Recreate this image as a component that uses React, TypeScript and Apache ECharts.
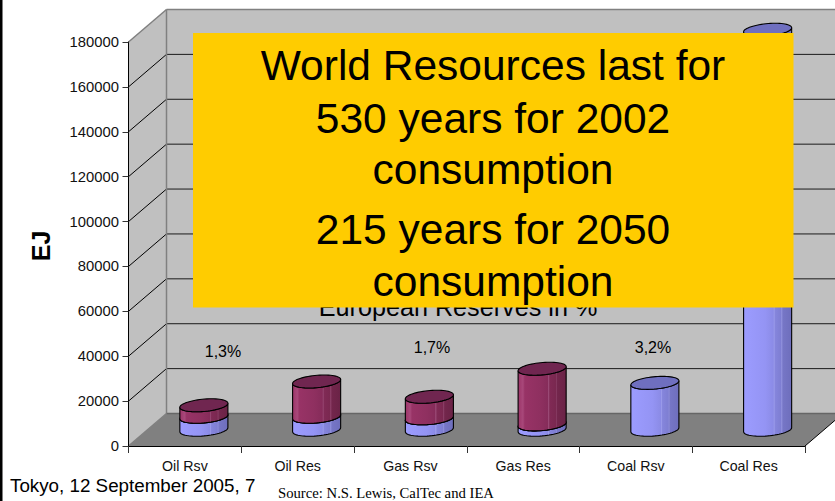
import React, { useEffect, useRef } from "react";
import * as echarts from "echarts";

const categories = ["Oil Rsv", "Oil Res", "Gas Rsv", "Gas Res", "Coal Rsv", "Coal Res"];
const blueValues = [5800, 5800, 5100, 2400, 20900, 178200];
const redTops = [10900, 21500, 14700, 27200, 0, 0];
const yMax = 180000;
const yStep = 20000;
const headlineLines = [
  "World Resources last for",
  "530 years for 2002",
  "consumption",
  "215 years for 2050",
  "consumption",
];
const headlineY = [65, 118, 169, 229, 281];
const shares = [
  { text: "1,3%", x: 223, y: 351 },
  { text: "1,7%", x: 432, y: 347 },
  { text: "3,2%", x: 653, y: 347 },
];

const DX = 38;
const DY = -32.5;
const FONT = '"Liberation Sans", Arial, sans-serif';

const RX = 22.8;
const AX = 7.6;
const BY = 6.5;

function ringPoint(cx: number, cy: number, t: number) {
  return [cx + RX * Math.cos(t) + AX * Math.sin(t), cy - BY * Math.sin(t)];
}

function wallsRenderItem(params: any, api: any) {
  const c = params.coordSys;
  const L = c.x;
  const R = c.x + c.width;
  const T = c.y;
  const B = c.y + c.height;
  const children: any[] = [];
  const gridVals: number[] = [];
  for (let v = 0; v <= yMax; v += yStep) gridVals.push(v);
  children.push({
    type: "polygon",
    shape: { points: [[L + DX, T + DY], [R + DX, T + DY], [R + DX, B + DY], [L + DX, B + DY]] },
    style: { fill: "#C0C0C0" },
  });
  children.push({
    type: "polygon",
    shape: { points: [[L, T], [L + DX, T + DY], [L + DX, B + DY], [L, B]] },
    style: { fill: "#C0C0C0" },
  });
  gridVals.forEach((v) => {
    const y = api.coord([0, v])[1];
    if (v > 0 && v < yMax) {
      children.push({
        type: "line",
        shape: { x1: L + DX, y1: y + DY, x2: R + DX, y2: y + DY },
        style: { stroke: "#1a1a1a", lineWidth: 1 },
      });
      children.push({
        type: "line",
        shape: { x1: L, y1: y, x2: L + DX, y2: y + DY },
        style: { stroke: "#000", lineWidth: 1 },
      });
    }
  });
  children.push({
    type: "polygon",
    shape: { points: [[L, B], [R, B], [R + DX, B + DY], [L + DX, B + DY]] },
    style: { fill: "#808080" },
  });
  const edge = (x1: number, y1: number, x2: number, y2: number, stroke: string, lineWidth: number) =>
    children.push({ type: "line", shape: { x1, y1, x2, y2 }, style: { stroke, lineWidth } });
  edge(L + DX, T + DY, R + DX, T + DY, "#808080", 1.5);
  edge(L, T, L + DX, T + DY, "#808080", 1.5);
  edge(L + DX, T + DY, L + DX, B + DY, "#808080", 1.5);
  edge(L, B, L + DX, B + DY, "#808080", 1.5);
  edge(L + DX, B + DY, R + DX, B + DY, "#666666", 1.5);
  edge(R, B, R + DX, B + DY, "#000", 1);
  return { type: "group", children };
}

function cylinderGradient(stops: [number, string][]) {
  return new echarts.graphic.LinearGradient(
    0, 0, 1, 0,
    stops.map(([offset, color]) => ({ offset, color }))
  );
}

const blueSide: [number, string][] = [
  [0, "#9C9CFF"], [0.45, "#9494F4"], [0.62, "#8B8BE6"], [0.63, "#A0A0EE"], [0.66, "#8585DC"],
  [0.78, "#7E7ED2"], [0.79, "#9090DC"], [0.82, "#7676C6"], [1, "#6E6EBC"],
];
const redSide: [number, string][] = [
  [0, "#9C3468"], [0.1, "#A8487A"], [0.14, "#983366"], [0.45, "#8F3060"], [0.62, "#862C5A"],
  [0.63, "#9C4C78"], [0.66, "#802A55"], [0.78, "#7A2850"], [0.79, "#8C4068"], [0.82, "#73264C"], [1, "#6A2346"],
];

function makeCylinder(side: [number, string][], topFill: string) {
  return function (_params: any, api: any) {
    const base = api.coord([api.value(0), api.value(1)]);
    const top = api.coord([api.value(0), api.value(2)]);
    const cx = base[0] + DX / 2;
    const yb = base[1] + DY / 2;
    const yt = top[1] + DY / 2;
    const t0 = Math.atan2(AX, RX);
    const n = 32;
    const lower: number[][] = [];
    const upper: number[][] = [];
    for (let i = 0; i <= n; i++) {
      const t = t0 - (Math.PI * i) / n;
      lower.push(ringPoint(cx, yb, t));
      upper.push(ringPoint(cx, yt, t));
    }
    const ring: number[][] = [];
    for (let i = 0; i < 2 * n; i++) ring.push(ringPoint(cx, yt, (Math.PI * i) / n));
    return {
      type: "group",
      children: [
        {
          type: "polygon",
          shape: { points: lower.concat(upper.slice().reverse()) },
          style: { fill: cylinderGradient(side), stroke: "#000", lineWidth: 1.1 },
        },
        {
          type: "polygon",
          shape: { points: ring },
          style: { fill: topFill, stroke: "#000", lineWidth: 1.1 },
        },
      ],
    };
  };
}

export default function App() {
  const ref = useRef<HTMLDivElement>(null);
  useEffect(() => {
    document.body.style.margin = "0";
    const chart = echarts.init(ref.current!, null, { renderer: "svg" });
    const blueData = categories.map((c, i) => [c, 0, blueValues[i]]);
    const redData = categories
      .map((c, i) => [c, blueValues[i], redTops[i]])
      .filter((d) => (d[2] as number) > 0);
    const text = (t: string, x: number, y: number, size: number, extra: any = {}) => ({
      type: "text",
      x,
      y,
      z: 50,
      style: {
        text: t,
        fontSize: size,
        fontFamily: FONT,
        fill: "#000",
        align: "center",
        verticalAlign: "middle",
        ...extra,
      },
    });
    chart.setOption({
      animation: false,
      backgroundColor: "#fff",
      grid: { left: 128.5, right: 30, top: 42, bottom: 55, containLabel: false },
      xAxis: {
        type: "category",
        data: categories,
        boundaryGap: true,
        z: 10,
        axisLine: { show: true, lineStyle: { color: "#000", width: 1 } },
        axisTick: { show: true, alignWithLabel: false, length: 7, lineStyle: { color: "#333" } },
        axisLabel: { color: "#111", fontFamily: FONT, fontSize: 14.2, margin: 13 },
      },
      yAxis: {
        type: "value",
        min: 0,
        max: yMax,
        interval: yStep,
        z: 10,
        splitLine: { show: false },
        axisLine: { show: true, lineStyle: { color: "#000", width: 1 } },
        axisTick: { show: true, length: 6, lineStyle: { color: "#333" } },
        axisLabel: {
          color: "#111",
          fontFamily: FONT,
          fontSize: 14.8,
          margin: 9.5,
          formatter: (v: number) => String(v),
        },
      },
      series: [
        { type: "custom", name: "walls", z: 1, data: [[categories[0], 0, 0]], encode: { x: 0, y: 1 }, renderItem: wallsRenderItem, silent: true },
        { type: "custom", name: "Reserves and resources", z: 3, data: blueData, encode: { x: 0, y: [1, 2] }, renderItem: makeCylinder(blueSide, "#6F6FBF") },
        { type: "custom", name: "Used share", z: 4, data: redData, encode: { x: 0, y: [1, 2] }, renderItem: makeCylinder(redSide, "#702650") },
      ],
      graphic: [
        { type: "rect", z: 49, shape: { x: 0, y: 0, width: 2.5, height: 501 }, style: { fill: "#000" } },
        ...shares.map((s) => text(s.text, s.x, s.y, 16)),
        text("European Reserves in %", 458, 307, 25.2),
        { ...text("EJ", 0, 0, 25, { fontWeight: "bold" }), x: 41, y: 246, rotation: Math.PI / 2 },
        { type: "rect", z: 60, shape: { x: 193, y: 33, width: 600.5, height: 274.5 }, style: { fill: "#FFCC00" } },
        ...headlineLines.map((l, i) => ({ ...text(l, 493, headlineY[i], 42.5), z: 61 })),
        text("Tokyo, 12 September 2005, 7", 10, 485, 18.8, { align: "left" }),
        text("Source: N.S. Lewis, CalTec and IEA", 278, 493, 14.7, {
          align: "left",
          fontFamily: '"Liberation Serif", serif',
        }),
      ],
    });
    return () => chart.dispose();
  }, []);
  return <div ref={ref} style={{ width: 835, height: 501 }} />;
}
